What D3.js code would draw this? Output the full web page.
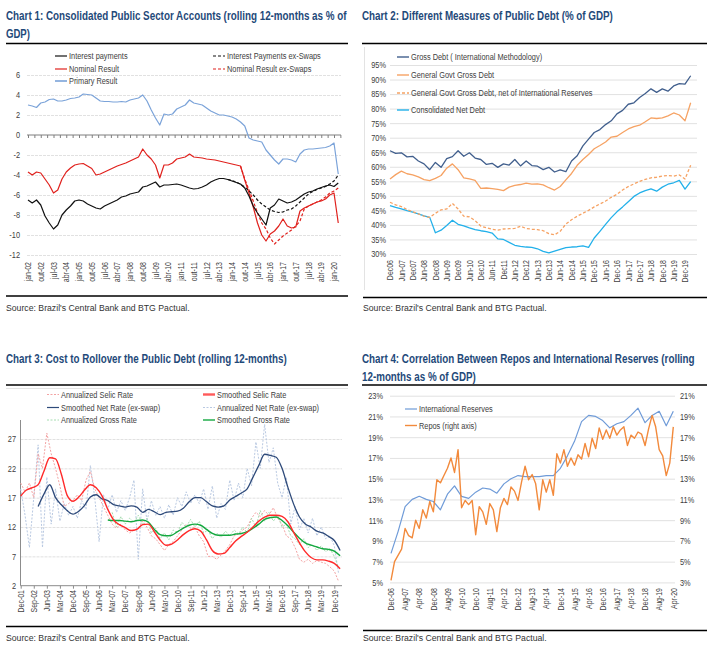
<!DOCTYPE html>
<html>
<head>
<meta charset="utf-8">
<script src="https://cdn.jsdelivr.net/npm/d3@7.9.0/dist/d3.min.js"></script>
<style>
  body { margin: 0; background: #fff; }
  svg text { font-family: "Liberation Sans", Arial, sans-serif; }
</style>
</head>
<body>
<script>
// ---------- Chart 1: Consolidated public sector accounts (% GDP), quarterly from jan-02 ----------
const c1Labels = ['jan-02','out-02','jul-03','abr-04','jan-05','out-05','jul-06','abr-07','jan-08','out-08','jul-09','abr-10','jan-11','out-11','jul-12','abr-13','jan-14','out-14','jul-15','abr-16','jan-17','out-17','jul-18','abr-19','jan-20'];
const c1Interest = [-6.5,-6.8,-6.5,-7.0,-8.1,-8.8,-9.4,-9.0,-8.0,-7.5, -7.1,-6.6,-6.5,-6.6,-6.9,-7.1,-7.3,-7.4,-7.1,-6.9, -6.7,-6.5,-6.2,-6.1,-5.9,-5.8,-5.7,-5.2,-5.1,-4.9, -4.7,-5.2,-5.0,-5.0,-4.95,-4.9,-5.0,-5.15,-5.3,-5.4, -5.35,-5.2,-5.0,-4.7,-4.5,-4.35,-4.35,-4.45,-4.6,-4.75, -4.9,-5.3,-6.1,-7.1,-7.8,-8.4,-9.0,-7.3,-7.0,-6.4, -6.6,-6.8,-6.7,-6.5,-6.2,-5.9,-5.7,-5.6,-5.4,-5.25, -5.1,-5.0,-5.15,-4.8];
const c1InterestEx = [-4.45,-4.55,-4.7,-4.95,-5.2,-5.6,-6.0,-6.5,-6.9,-7.2, -7.5,-7.65,-7.75,-7.7,-7.5,-7.4,-7.1,-6.7,-6.3,-5.9, -5.65,-5.45,-5.3,-5.15,-4.9,-4.6,-4.0]; // from month 141
const c1Nominal = [-3.7,-4.0,-3.7,-3.8,-4.4,-5.0,-5.8,-5.5,-4.4,-3.7, -3.3,-3.0,-2.9,-2.85,-3.1,-3.35,-4.0,-3.9,-3.7,-3.5, -3.3,-3.1,-2.95,-2.8,-2.6,-2.4,-2.2,-1.4,-2.0,-2.4, -3.0,-4.3,-3.0,-3.0,-2.8,-2.4,-2.3,-2.2,-1.9,-2.2, -2.25,-2.3,-2.4,-2.45,-2.5,-2.6,-2.7,-2.8,-2.9,-3.0, -3.1,-4.5,-5.8,-7.2,-8.8,-10.0,-10.6,-9.9,-9.6,-9.1, -8.4,-9.1,-9.3,-9.2,-7.6,-7.3,-7.1,-6.9,-6.7,-6.6, -6.4,-6.0,-5.8,-8.8];
const c1NominalEx = [-3.1,-4.4,-5.5,-6.6,-7.8,-8.8,-9.4,-10.3,-10.9,-10.5, -10.1,-9.8,-9.5,-9.1,-8.6,-7.4,-7.1,-6.9,-6.7,-6.5, -6.2,-5.8,-5.6,-5.3]; // from month 150
const c1Primary = [3.0,2.9,2.75,3.2,3.3,3.55,3.6,3.4,3.4,3.5, 3.65,3.7,3.8,4.1,4.05,4.0,3.7,3.4,3.35,3.35, 3.3,3.3,3.35,3.3,3.5,3.6,3.7,4.0,3.4,2.5, 1.7,1.0,2.1,2.0,2.1,2.6,2.8,3.0,3.5,3.2, 3.1,3.0,2.7,2.4,2.2,2.0,2.0,1.9,1.8,1.6, 1.3,0.9,-0.3,-0.5,-0.6,-0.7,-1.5,-2.0,-2.5,-2.9, -2.4,-2.4,-2.5,-2.7,-1.9,-1.5,-1.4,-1.4,-1.35,-1.3, -1.25,-1.1,-0.8,-3.9];

// ---------- Chart 2: Public debt measures (% GDP), quarterly from Dec-06 ----------
const c2Labels = ['Dec06','Jun-07','Dec07','Jun-08','Dec08','Jun-09','Dec09','Jun-10','Dec10','Jun-11','Dec11','Jun-12','Dec12','Jun-13','Dec13','Jun-14','Dec14','Jun-15','Dec-15','Jun-16','Dec-16','Jun-17','Dec-17','Jun-18','Dec-18','Jun-19','Dec-19'];
const c2Gross = [65.5,64.6,64.8,63.4,63.6,62.0,61.0,59.0,61.5,59.8, 62.8,63.5,65.5,63.6,64.8,63.0,62.5,60.8,61.2,59.8, 61.0,60.6,62.5,60.3,62.0,60.4,60.2,59.0,59.8,58.2, 58.9,58.3,62.0,63.8,67.2,69.5,71.8,72.8,74.5,75.8, 78.2,79.4,81.5,82.0,83.8,85.2,86.8,85.6,86.8,86.0, 87.8,88.6,88.4,91.3];
const c2Govt = [55.8,57.3,58.5,57.6,57.2,56.5,55.6,55.2,56.0,57.0, 59.5,61.0,59.0,56.2,55.8,55.3,52.6,52.7,52.5,52.2, 51.8,53.0,53.6,53.9,54.4,54.0,54.1,53.8,52.8,52.0, 53.2,55.5,57.7,60.5,62.5,64.2,66.2,67.3,68.5,70.2, 70.5,71.8,73.0,73.8,74.3,75.5,76.8,76.6,76.8,77.5, 78.5,77.8,75.8,82.0];
const c2GovtNet = [47.8,46.9,46.3,45.3,44.5,43.8,43.0,42.6,44.0,45.2, 45.5,47.4,45.5,43.0,42.8,41.5,39.6,39.0,38.5,38.2, 38.6,38.7,38.8,39.5,38.8,38.5,38.4,38.0,37.0,36.6, 37.8,40.3,41.8,43.0,44.0,45.0,46.2,47.2,48.2,49.5, 50.5,52.0,53.2,54.1,55.0,55.7,56.2,56.4,56.8,57.0, 56.8,57.2,55.8,60.5];
const c2Net = [46.6,46.0,45.5,44.9,44.4,43.8,43.1,42.6,37.3,38.2, 39.8,41.6,40.2,39.7,39.0,38.4,38.0,37.7,37.2,35.2, 35.0,34.0,33.0,32.6,32.4,32.3,31.8,30.9,30.4,31.0, 31.6,32.2,32.4,32.5,32.8,32.3,35.5,37.8,40.2,42.5, 44.5,46.2,48.0,49.8,51.0,51.8,52.4,51.6,53.0,54.0, 54.5,55.3,52.3,54.9];

// ---------- Chart 3: Cost to rollover the public debt, months from Dec-01 ----------
const c3Labels = ['Dec-01','Sep-02','Jun-03','Mar-04','Dec-04','Sep-05','Jun-06','Mar-07','Dec-07','Sep-08','Jun-09','Mar-10','Dec-10','Sep-11','Jun-12','Mar-13','Dec-13','Sep-14','Jun-15','Mar-16','Dec-16','Sep-17','Jun-18','Mar-19','Dec-19'];
const c3SelicSmooth = [17.3,18.3,18.7,19.2,21.5,23.8,23.6,21.0,17.4,16.4, 17.1,18.3,19.2,18.7,17.3,15.0,13.2,12.4,11.9,11.4, 11.6,12.4,12.5,11.2,9.8,8.9,9.1,9.8,10.7,11.4, 11.7,11.3,9.8,8.0,7.4,7.5,8.5,9.6,10.4,11.1, 12.0,13.0,13.7,14.0,14.0,13.8,12.9,11.1,9.3,7.8, 6.8,6.4,6.4,6.2,5.8,4.9]; // every 4 months from 0
const c3NetSmooth = [15.5,17.6,19.2,17.0,15.8,14.8,14.2,14.7,15.7,17.1, 17.5,16.8,16.5,15.8,15.6,15.4,15.6,15.4,14.5,15.0, 14.6,14.1,14.5,14.6,14.7,15.2,16.3,17.0,17.0,16.3, 15.6,15.4,15.6,16.6,17.2,17.8,18.5,20.5,22.5,24.4, 24.2,23.9,22.0,18.8,15.9,13.7,12.5,12.0,11.3,11.0, 10.4,9.7,8.0]; // every 4 months from 12
const c3GrossSmooth = [13.2,13.1,13.1,13.0,12.9,13.1,13.2,12.8,11.6,10.7, 10.5,10.6,11.2,11.8,12.3,12.5,12.3,11.6,10.9,10.6, 10.6,10.6,10.8,10.9,11.2,11.8,12.5,13.3,13.6,13.7, 13.1,12.2,11.1,10.1,9.3,8.9,8.6,8.3,8.2,7.9, 7.1]; // every 4 months from 60
const c3SelicAnn = [19.5,18.0,19.5,17.0,24.5,22.0,28.0,24.5,22.0,19.0, 15.5,16.0,16.5,17.5,16.5,20.0,21.5,18.5,17.0,15.5, 14.0,12.5,11.8,12.5,11.5,11.0,11.5,11.8,13.0,12.0, 10.5,10.0,9.0,8.0,9.0,9.5,10.5,11.5,12.5,11.8, 12.0,10.5,9.5,7.0,7.0,6.5,7.2,8.0,9.0,10.5, 10.8,11.5,12.0,13.5,14.5,13.8,14.8,14.0,15.3,13.5, 12.5,10.5,10.0,8.5,6.5,6.0,6.5,5.8,6.3,6.0, 5.8,5.2,4.5,2.7]; // every 3 months from 0
const c3NetAnn = [18.5,14.0,8.5,17.0,26.0,8.5,20.5,12.5,18.5,13.0, 16.0,14.0,15.5,13.5,16.5,15.0,22.5,17.0,9.5,17.5, 15.0,17.5,14.5,16.5,14.8,17.0,20.0,6.5,18.5,13.0, 16.5,14.0,15.5,13.5,15.8,14.0,17.0,15.5,18.0,16.0, 17.5,16.0,18.5,15.0,19.0,13.5,16.0,15.0,20.0,16.5, 19.5,17.0,22.0,19.0,26.5,22.0,29.5,23.0,25.5,19.5, 17.0,20.5,12.5,15.5,11.5,13.5,11.0,13.5,10.5,12.0, 10.0,10.5,8.8,4.0]; // every 3 months from 0
const c3GrossAnn = [14.5,12.0,13.8,12.5,13.5,12.8,14.0,12.5,13.5,11.0, 11.8,10.0,11.0,9.8,11.5,11.0,12.8,12.0,13.3,12.0, 13.0,11.0,11.5,10.0,11.0,10.2,11.3,10.5,11.5,10.8, 12.0,11.0,13.5,12.0,14.8,13.0,14.5,13.0,14.0,12.0, 12.5,10.5,10.0,9.0,10.0,8.5,9.0,8.0,8.8,7.8, 8.3,7.0,5.0]; // every 3 months from 63

// ---------- Chart 4: Repos vs international reserves, months from Dec-06 ----------
const c4Labels = ['Dec-06','Aug-07','Apr-08','Dec-08','Aug-09','Apr-10','Dec-10','Aug-11','Apr-12','Dec-12','Aug-13','Apr-14','Dec-14','Aug-15','Apr-16','Dec-16','Aug-17','Apr-18','Dec-18','Aug-19','Apr-20'];
const c4Reserves = [7.8,9.9,12.3,13.0,13.3,13.0,12.8,12.0,13.5,14.3, 13.3,13.1,13.7,14.1,14.0,13.6,14.5,15.0,15.3,15.2, 15.2,15.2,15.3,15.3,16.0,17.2,18.6,20.5,21.1,21.0, 20.6,19.9,20.3,20.5,21.1,21.8,20.4,21.1,21.5,20.1, 21.5]; // every 4 months
const c4Repos = [3.2,5.0,5.6,6.2,8.2,7.5,7.3,9.0,8.2,10.0, 9.2,10.8,9.8,12.9,12.6,13.3,14.0,15.0,13.6,15.8, 10.2,10.9,10.5,10.9,7.6,10.3,9.8,8.6,10.6,10.0, 7.9,10.2,11.1,10.5,12.2,11.8,10.9,12.7,14.2,12.9, 13.4,12.5,10.0,12.9,11.7,12.9,11.4,15.4,14.5,15.8, 14.2,15.0,14.3,15.3,14.9,16.4,15.1,16.9,15.9,17.9, 16.8,17.7,16.9,18.0,17.2,17.7,18.0,16.2,17.2,16.9, 17.5,17.3,16.2,17.8,19.1,18.0,15.8,15.2,13.3,14.5, 18.0]; // every 2 months, right axis

const TITLE = '#1f4a7a';
const TXT = '#404040';
const GRID = '#d9d9d9';
const NARROW = 0.82; // no narrow font installed: squeeze regular glyphs horizontally

const svg = d3.select('body').append('svg').attr('width', 711).attr('height', 656);

function pts(start, step, vals) {
  return vals.map((v, i) => ({ m: start + i * step, v: v }));
}

function drawLine(g, x, y, data, color, width, dash, curve) {
  g.append('path')
    .datum(data)
    .attr('fill', 'none')
    .attr('stroke', color)
    .attr('stroke-width', width)
    .attr('stroke-dasharray', dash || null)
    .attr('stroke-linejoin', 'round')
    .attr('d', d3.line().x((d) => x(d.m)).y((d) => y(d.v)).curve(curve || d3.curveLinear));
}

// text squeezed to a given width, placed with a transform so its box is right
function fitText(x, y, str, width, size, color, bold) {
  const t = svg.append('text')
    .attr('font-size', size).attr('fill', color)
    .attr('font-weight', bold ? 'bold' : null)
    .text(str);
  const s = width / t.node().getComputedTextLength();
  t.attr('transform', `translate(${x},${y}) scale(${s},1)`);
  return t;
}

function header(x, lines, baseY, widths, ruleY, x2) {
  lines.forEach((t, i) => fitText(x, baseY + i * 18, t, widths[i], 13, TITLE, true));
  svg.append('line').attr('x1', x).attr('x2', x2).attr('y1', ruleY).attr('y2', ruleY)
    .attr('stroke', '#000').attr('stroke-width', 1.3);
}

function source(x, ruleY, textY, x2) {
  svg.append('line').attr('x1', x).attr('x2', x2).attr('y1', ruleY).attr('y2', ruleY)
    .attr('stroke', '#000').attr('stroke-width', 1.3);
  fitText(x, textY, "Source: Brazil's Central Bank and BTG Pactual.", 184, 9.5, '#333');
}

function legendItem(x, y, color, width, dash, label) {
  svg.append('line').attr('x1', x).attr('x2', x + 12).attr('y1', y).attr('y2', y)
    .attr('stroke', color).attr('stroke-width', width).attr('stroke-dasharray', dash || null);
  svg.append('text').attr('transform', `translate(${x + 14},${y}) scale(${NARROW},1)`)
    .attr('dy', '0.35em').attr('fill', TXT).attr('font-size', 9).text(label);
}

function grid(y, values, x1, x2, dash) {
  svg.append('g').attr('transform', `translate(${x1},0)`)
    .call(d3.axisLeft(y).tickValues(values).tickSize(-(x2 - x1)).tickFormat(''))
    .call((g) => g.select('.domain').remove())
    .selectAll('line').attr('stroke', GRID).attr('stroke-width', 0.8).attr('stroke-dasharray', dash || null);
}

function yLabels(y, values, xPos, fmt, side) {
  const axis = side === 'right' ? d3.axisRight(y) : d3.axisLeft(y);
  svg.append('g').attr('transform', `translate(${xPos},0)`)
    .call(axis.tickValues(values).tickSize(0).tickPadding(0).tickFormat(fmt))
    .call((g) => g.select('.domain').remove())
    .selectAll('text')
    .attr('x', 0)
    .attr('transform', `scale(${NARROW},1)`)
    .attr('fill', TXT).attr('font-size', 9)
    .style('font-family', '"Liberation Sans", Arial, sans-serif');
}

function xLabels(x, labels, step, topY) {
  svg.append('g').attr('transform', `translate(0,${topY})`)
    .call(d3.axisBottom(x).tickValues(labels.map((_, i) => i * step)).tickFormat((d, i) => labels[i]).tickSize(0))
    .call((g) => g.select('.domain').remove())
    .selectAll('text')
    .attr('transform', `rotate(-90) scale(${NARROW},1)`).attr('text-anchor', 'end')
    .attr('x', 0).attr('y', 0).attr('dy', '0.32em')
    .attr('fill', TXT).attr('font-size', 8.5)
    .style('font-family', '"Liberation Sans", Arial, sans-serif');
}

// ================= Chart 1 =================
header(6, ['Chart 1: Consolidated Public Sector Accounts (rolling 12-months as % of', 'GDP)'], 20, [341, 24], 43.5, 348);
const x1 = d3.scaleLinear().domain([0, 216]).range([28, 334]);
const y1 = d3.scaleLinear().domain([-12, 6]).range([255, 75]);
grid(y1, [-12, -10, -8, -6, -4, -2, 2, 4, 6], 27, 341, '3,1');
yLabels(y1, d3.range(-12, 7, 2), 20, (d) => d);
svg.append('g').attr('transform', `translate(0,${y1(0)})`)
  .call(d3.axisBottom(x1).tickValues(d3.range(0, 221, 4.5)).tickSize(3).tickFormat(''))
  .call((g) => g.select('.domain').remove())
  .selectAll('line').attr('stroke', '#7f7f7f');
svg.append('line').attr('x1', 27).attr('x2', 341).attr('y1', y1(0)).attr('y2', y1(0)).attr('stroke', '#7f7f7f');
xLabels(x1, c1Labels, 9, 262);

const c1g = svg.append('g');
drawLine(c1g, x1, y1, pts(0, 3, c1Primary), '#7ba3d9', 1.2);
drawLine(c1g, x1, y1, pts(0, 3, c1Nominal), '#e0211d', 1.2);
drawLine(c1g, x1, y1, pts(150, 3, c1NominalEx), '#e0211d', 1.2, '3,2');
drawLine(c1g, x1, y1, pts(0, 3, c1Interest), '#111', 1.2);
drawLine(c1g, x1, y1, pts(141, 3, c1InterestEx), '#111', 1.2, '3,2');

legendItem(55, 56, '#111', 1.2, null, 'Interest payments');
legendItem(213, 56, '#111', 1.2, '3,2', 'Interest Payments ex-Swaps');
legendItem(55, 69, '#e0211d', 1.2, null, 'Nominal Result');
legendItem(213, 69, '#e0211d', 1.2, '3,2', 'Nominal Result ex-Swaps');
legendItem(55, 81, '#7ba3d9', 1.6, null, 'Primary Result');
source(6, 296, 311, 348);

// ================= Chart 2 =================
header(362, ['Chart 2: Different Measures of Public Debt (% of GDP)'], 20, [251], 43.5, 707);
svg.append('line').attr('x1', 364.5).attr('x2', 364.5).attr('y1', 47).attr('y2', 290).attr('stroke', '#e3e3e3');
const x2 = d3.scaleLinear().domain([0, 156]).range([390, 685]);
const y2 = d3.scaleLinear().domain([30, 95]).range([254, 65]);
grid(y2, d3.range(30, 96, 5), 390, 697);
yLabels(y2, d3.range(30, 96, 5), 386, (d) => d + '%');
xLabels(x2, c2Labels, 6, 260);

const c2g = svg.append('g');
drawLine(c2g, x2, y2, pts(0, 3, c2Net), '#22b0ea', 1.3);
drawLine(c2g, x2, y2, pts(0, 3, c2GovtNet), '#f6a263', 1.3, '3,2');
drawLine(c2g, x2, y2, pts(0, 3, c2Govt), '#f6a263', 1.3);
drawLine(c2g, x2, y2, pts(0, 3, c2Gross), '#415f8d', 1.3);

legendItem(397, 57, '#415f8d', 1.4, null, 'Gross Debt ( International Methodology)');
legendItem(397, 75, '#f6a263', 1.4, null, 'General Govt Gross Debt');
legendItem(397, 93, '#f6a263', 1.4, '3,2', 'General Govt Gross Debt, net of International Reserves');
legendItem(397, 110, '#22b0ea', 1.4, null, 'Consolidated Net Debt');
source(363, 297.5, 311, 707);

// ================= Chart 3 =================
header(6, ['Chart 3: Cost to Rollover the Public Debt (rolling 12-months)'], 362.5, [281], 385, 348);
svg.append('line').attr('x1', 6).attr('x2', 348).attr('y1', 388.5).attr('y2', 388.5).attr('stroke', '#e3e3e3');
const x3 = d3.scaleLinear().domain([0, 216]).range([20.7, 334.3]);
const y3 = d3.scaleLinear().domain([2, 27]).range([585.7, 439]);
grid(y3, [7, 12, 17, 22, 27], 20.5, 342, '3,1');
yLabels(y3, [2, 7, 12, 17, 22, 27], 16, (d) => d);
svg.append('line').attr('x1', 20.5).attr('x2', 20.5).attr('y1', 420).attr('y2', y3(2)).attr('stroke', '#8c8c8c');
svg.append('g').attr('transform', `translate(0,${y3(2)})`)
  .call(d3.axisBottom(x3).tickValues(d3.range(0, 217, 9)).tickSize(3).tickFormat(''))
  .call((g) => g.select('.domain').remove())
  .selectAll('line').attr('stroke', '#8c8c8c');
svg.append('line').attr('x1', 20.5).attr('x2', 342).attr('y1', y3(2)).attr('y2', y3(2)).attr('stroke', '#8c8c8c');
xLabels(x3, c3Labels, 9, 590);

const c3g = svg.append('g');
drawLine(c3g, x3, y3, pts(0, 3, c3NetAnn), '#b9c9e2', 1, '2,1.5');
drawLine(c3g, x3, y3, pts(0, 3, c3SelicAnn), '#f3a3a3', 1, '2,1.5');
drawLine(c3g, x3, y3, pts(63, 3, c3GrossAnn), '#a5dcb0', 1, '2,1.5');
drawLine(c3g, x3, y3, pts(12, 4, c3NetSmooth), '#2e4a7a', 1.3, null, d3.curveMonotoneX);
drawLine(c3g, x3, y3, pts(60, 4, c3GrossSmooth), '#14a83f', 1.4, null, d3.curveMonotoneX);
drawLine(c3g, x3, y3, pts(0, 4, c3SelicSmooth), '#ff2a2a', 1.4, null, d3.curveMonotoneX);

legendItem(47, 394.5, '#f3a3a3', 1, '2,1.5', 'Annualized Selic Rate');
legendItem(203, 394.5, '#ff5a5a', 2.4, null, 'Smoothed Selic Rate');
legendItem(47, 407.5, '#2e4a7a', 1.2, null, 'Smoothed Net Rate (ex-swap)');
legendItem(203, 407.5, '#b9c9e2', 1, '2,1.5', 'Annualized Net Rate (ex-swap)');
legendItem(47, 420, '#a5dcb0', 1, '2,1.5', 'Annualized Gross Rate');
legendItem(203, 420, '#14a83f', 1.4, null, 'Smoothed Gross Rate');
source(6, 626.5, 641, 348);

// ================= Chart 4 =================
header(362, ['Chart 4: Correlation Between Repos and International Reserves (rolling', '12-months as % of GDP)'], 362.5, [333, 114], 385, 707);
const x4 = d3.scaleLinear().domain([0, 160]).range([391, 673.3]);
const y4L = d3.scaleLinear().domain([5, 23]).range([582.4, 395.7]);
const y4R = d3.scaleLinear().domain([3, 21]).range([582.4, 395.7]);
grid(y4L, d3.range(5, 24, 2), 390, 675);
yLabels(y4L, d3.range(5, 24, 2), 383, (d) => d + '%');
yLabels(y4R, d3.range(3, 22, 2), 680, (d) => d + '%', 'right');
xLabels(x4, c4Labels, 8, 588);

const c4g = svg.append('g');
drawLine(c4g, x4, y4L, pts(0, 4, c4Reserves), '#6f9bd8', 1.2);
drawLine(c4g, x4, y4R, pts(0, 2, c4Repos), '#f28a3c', 1.4);

legendItem(405, 409, '#6f9bd8', 1.2, null, 'International Reserves');
legendItem(405, 425.5, '#f28a3c', 1.4, null, 'Repos (right axis)');
source(363, 630.5, 641, 707);
</script>
</body>
</html>
